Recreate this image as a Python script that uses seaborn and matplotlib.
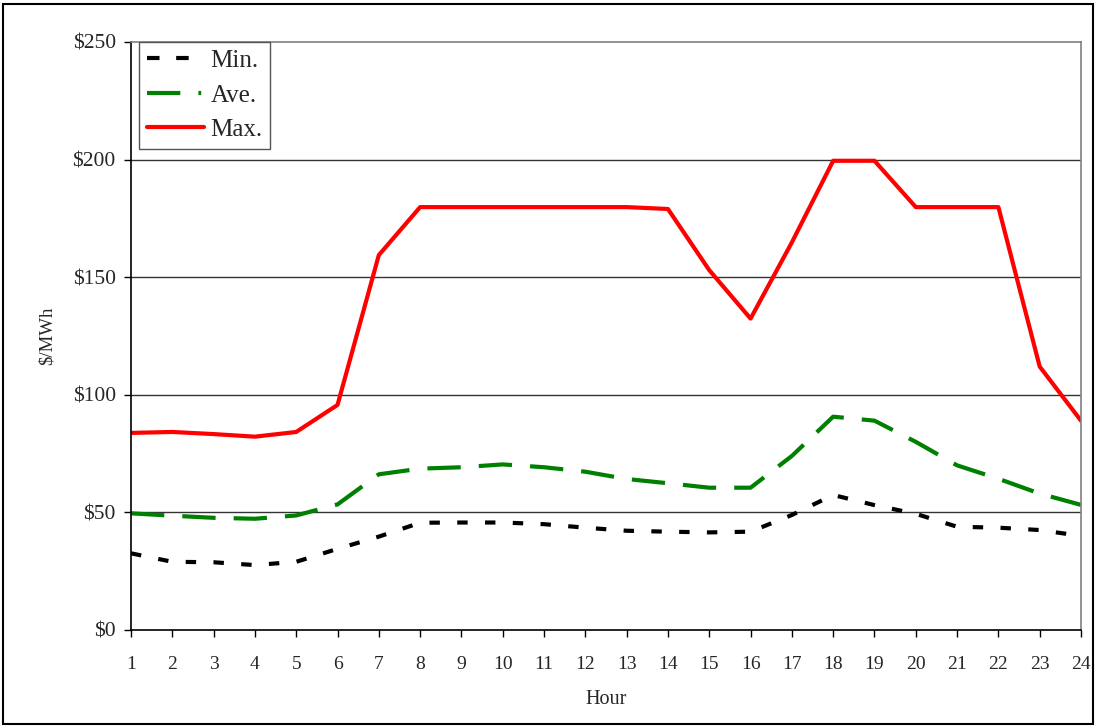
import matplotlib
matplotlib.use("Agg")
import matplotlib.pyplot as plt
import seaborn as sns
import pandas as pd
from matplotlib.patches import Rectangle

hours = list(range(1, 25))
min_vals = [32.6, 29.0, 28.8, 27.6, 29.0, 34.5, 39.7, 45.6, 45.7, 45.7, 45.0, 43.5,
            42.2, 41.8, 41.5, 41.8, 48.9, 57.4, 53.1, 49.4, 43.9, 43.5, 42.5, 40.0]
ave_vals = [49.6, 48.6, 47.7, 47.3, 48.7, 53.4, 66.2, 68.6, 69.2, 70.4, 69.2, 67.3,
            64.2, 62.4, 60.5, 60.5, 74.0, 90.7, 89.0, 80.0, 70.0, 64.3, 58.0, 53.2]
max_vals = [83.8, 84.2, 83.3, 82.2, 84.2, 95.7, 159.4, 179.8, 179.8, 179.8, 179.8, 179.8,
            179.8, 179.0, 153.0, 132.4, 164.8, 199.5, 199.5, 179.8, 179.8, 179.8, 112.0, 89.0]
series_names = ["Min.", "Ave.", "Max."]
y_ticks = [0, 50, 100, 150, 200, 250]
y_tick_labels = ["$0", "$50", "$100", "$150", "$200", "$250"]

df = pd.DataFrame({
    "Hour": hours * 3,
    "value": min_vals + ave_vals + max_vals,
    "series": [series_names[0]] * 24 + [series_names[1]] * 24 + [series_names[2]] * 24,
})

sns.set_theme(style="white")
plt.rcParams["font.family"] = ["Liberation Serif", "DejaVu Serif"]
plt.rcParams["lines.scale_dashes"] = False

fig = plt.figure(figsize=(10.97, 7.27), dpi=100)
ax = fig.add_axes([131 / 1097, 97 / 727, 950 / 1097, 588 / 727])

styles = {
    "Min.": dict(color="black", dashes=(0, (7.5, 12.5))),
    "Ave.": dict(color="#008000", dashes=(0, (24, 13))),
    "Max.": dict(color="#FF0000", dashes=None),
}
for name in series_names:
    sub = df[df["series"] == name]
    st = styles[name]
    sns.lineplot(data=sub, x="Hour", y="value", ax=ax, color=st["color"], lw=3,
                 label=name, legend=False)
    if st["dashes"] is not None:
        ax.lines[-1].set_linestyle(st["dashes"])

ax.set_xlim(1, 24)
ax.set_ylim(0, 250)
ax.set_xticks(hours)
ax.set_xticklabels([str(h) for h in hours], fontsize=14)
ax.set_yticks(y_ticks)
ax.set_yticklabels(y_tick_labels, fontsize=15.5)
for y in y_ticks[1:-1]:
    ax.axhline(y, color="#333333", lw=1, zorder=0)

ax.tick_params(axis="x", direction="out", length=5, width=1, color="black", pad=14, bottom=True)
ax.tick_params(axis="y", direction="out", length=5, width=1, color="black", pad=6, left=True)
for s in ["left", "bottom"]:
    ax.spines[s].set_color("black")
    ax.spines[s].set_linewidth(1.2)
for s in ["top", "right"]:
    ax.spines[s].set_color("#808080")
    ax.spines[s].set_linewidth(1.2)

ax.set_xlabel("Hour", fontsize=14.5, labelpad=12)
ax.set_ylabel("$/MWh", fontsize=13.5, labelpad=12)

leg = ax.legend(loc="upper left", bbox_to_anchor=(0.0085, 1.0), fontsize=18,
                frameon=True, fancybox=False, edgecolor="#555555", framealpha=1,
                handlelength=2.3, handletextpad=0.25, borderpad=0.3, labelspacing=0.48,
                borderaxespad=0.0)
leg.get_frame().set_linewidth(1.0)
lh = leg.get_lines()
lh[0].set_linestyle((0, (9, 12)))
lh[1].set_linestyle((0, (24, 13, 2, 8)))

fig.patches.append(Rectangle((3 / 1097, 3 / 727), 1090 / 1097, 720 / 727,
                             transform=fig.transFigure, fill=False,
                             edgecolor="black", lw=1.5))

fig.savefig("out.png", dpi=100)
